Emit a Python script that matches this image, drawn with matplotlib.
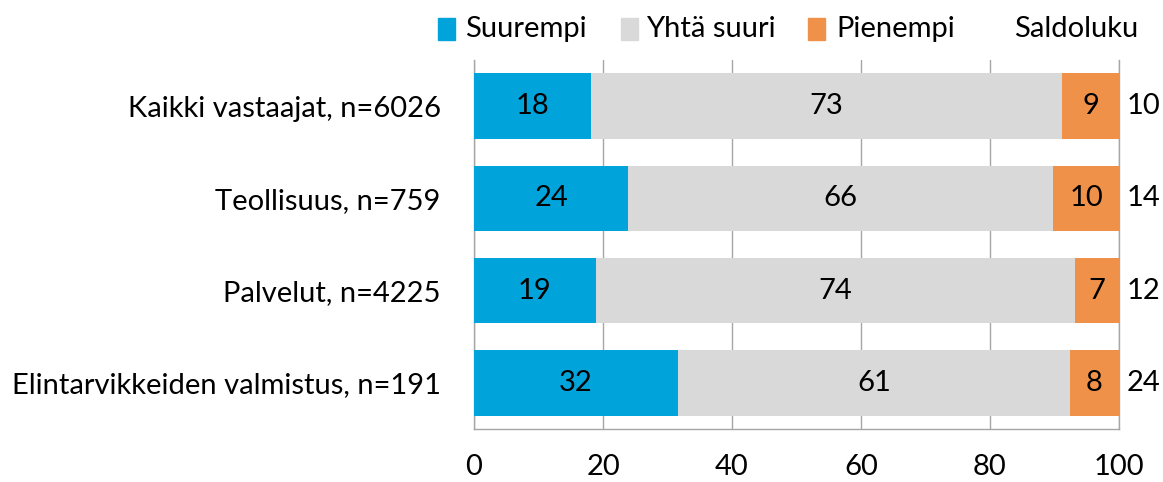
import matplotlib
matplotlib.use("Agg")
import matplotlib.pyplot as plt
from matplotlib.patches import Rectangle

categories = ["Kaikki vastaajat, n=6026", "Teollisuus, n=759", "Palvelut, n=4225",
              "Elintarvikkeiden valmistus, n=191"]
suurempi = [18.1, 23.9, 18.9, 31.6]
yhta_suuri = [73.1, 65.9, 74.3, 60.8]
pienempi = [8.8, 10.2, 6.8, 7.6]
saldoluku = [10, 14, 12, 24]
series_names = ["Suurempi", "Yhtä suuri", "Pienempi"]
saldo_title = "Saldoluku"
xticks = [0, 20, 40, 60, 80, 100]

colors = ["#00A3DA", "#D9D9D9", "#F0914A"]
FONT = "Lato"
FS = 21

plt.rcParams['font.family'] = [FONT, 'DejaVu Sans']

fig = plt.figure(figsize=(11.63, 4.82), dpi=100)
ax = fig.add_axes([474/1163, 1-429/482, (1119-474)/1163, (429-60)/482])

y = list(range(len(categories)))
left = [0]*len(categories)
for vals, col in zip([suurempi, yhta_suuri, pienempi], colors):
    ax.barh(y, vals, left=left, height=0.71, color=col, zorder=3)
    for yi, v, l in zip(y, vals, left):
        ax.text(l + v/2, yi, f"{v:.0f}", ha="center", va="center", fontsize=FS, color="black", zorder=4)
    left = [a+b for a, b in zip(left, vals)]

for yi, s in zip(y, saldoluku):
    ax.text(101.2, yi, str(s), ha="left", va="center", fontsize=FS, clip_on=False)

ax.set_xlim(0, 100)
ax.set_ylim(3.5, -0.5)
ax.set_yticks(y)
ax.set_yticklabels(categories, fontsize=FS)
ax.set_xticks(xticks)
ax.set_xticklabels([str(t) for t in xticks], fontsize=FS)
ax.tick_params(axis="y", length=0, pad=24)
ax.tick_params(axis="x", length=0, pad=18)
ax.grid(axis="x", color="#A6A6A6", linewidth=1, zorder=0)
ax.spines["top"].set_visible(False)
for s in ["left", "bottom", "right"]:
    ax.spines[s].set_color("#A6A6A6")
    ax.spines[s].set_linewidth(1)

# legend
W, H = 1163, 482
legend_items = [(438, 465), (621, 646), (808, 836)]
for (sx, tx), name, col in zip(legend_items, series_names, colors):
    fig.patches.append(Rectangle((sx/W, 1-40/H), 17/W, 22/H, transform=fig.transFigure,
                                 color=col, figure=fig))
    fig.text(tx/W, 1-29/H, name, ha="left", va="center", fontsize=FS)
fig.text(1014/W, 1-29/H, saldo_title, ha="left", va="center", fontsize=FS)

fig.savefig("out.png", dpi=100)
